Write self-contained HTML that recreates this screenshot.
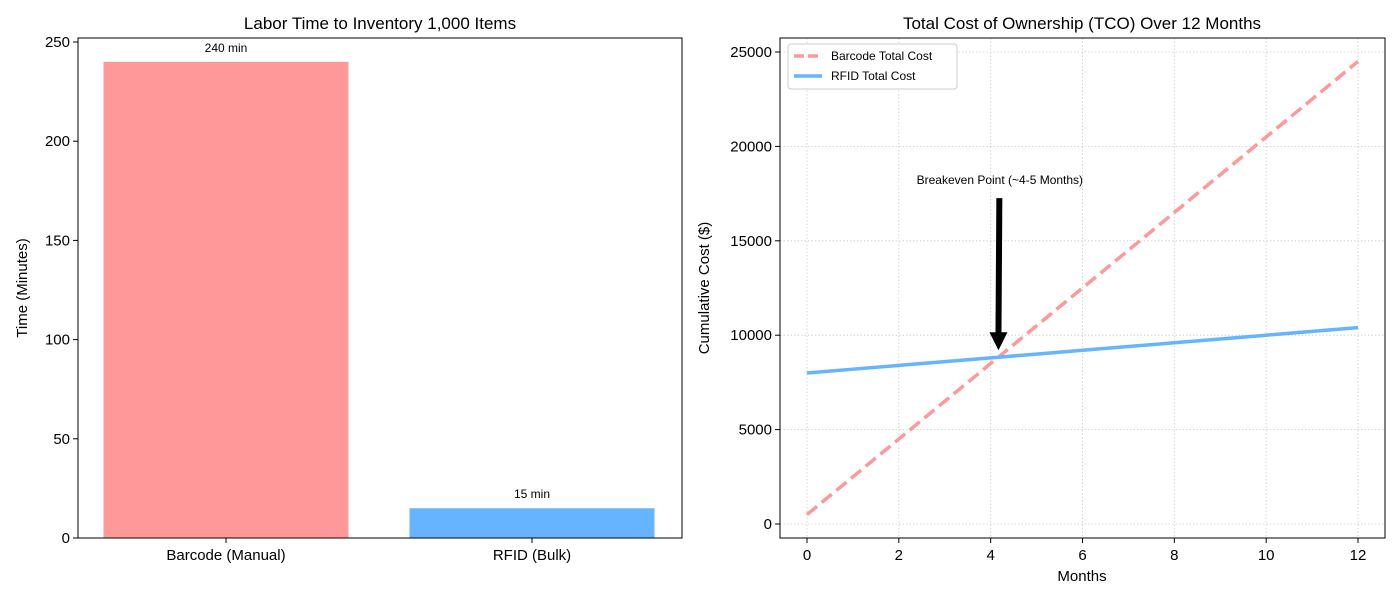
<!DOCTYPE html>
<html><head><meta charset="utf-8"><style>
body{margin:0;background:#fff;font-family:"Liberation Sans",sans-serif}
svg text{font-family:"Liberation Sans",sans-serif;fill:#000}
</style></head><body>
<svg id="c" width="1400" height="600" xmlns="http://www.w3.org/2000/svg"></svg>
<script>
const barCategories=["Barcode (Manual)","RFID (Bulk)"];
const barValues=[240,15];
const barLabels=["240 min","15 min"];
const barColors=["#ff9999","#66b3ff"];
const leftTicks=[0,50,100,150,200,250];
const months=[0,1,2,3,4,5,6,7,8,9,10,11,12];
const barcodeCost=[500,2500,4500,6500,8500,10500,12500,14500,16500,18500,20500,22500,24500];
const rfidCost=[8000,8200,8400,8600,8800,9000,9200,9400,9600,9800,10000,10200,10400];
const rightXTicks=[0,2,4,6,8,10,12];
const rightYTicks=[0,5000,10000,15000,20000,25000];
const breakeven=[4.17,8833];
const annotText=[4.2,18000];

const svg=document.getElementById('c');
const NS="http://www.w3.org/2000/svg";
function el(tag,attrs,parent){const e=document.createElementNS(NS,tag);for(const k in attrs)e.setAttribute(k,attrs[k]);(parent||svg).appendChild(e);return e;}
function txt(s,attrs,parent){const e=el('text',attrs,parent);e.textContent=s;return e;}

// LEFT
const L={x0:78,x1:682,y0:538,y1:38};
const ly=v=>538-v*(496/250);
const bandW=(L.x1-L.x0);
const bx=i=>226+i*306;
const gL=el('g',{});

barValues.forEach((v,i)=>{
 const r=el('rect',{x:bx(i)-122.5,y:ly(v),width:245,height:ly(0)-ly(v),fill:barColors[i]},gL);
 
 const t=txt(barLabels[i],{x:bx(i),y:ly(v)-10,'text-anchor':'middle','font-size':12},gL);
 
 const c=txt(barCategories[i],{x:bx(i),y:560,'text-anchor':'middle','font-size':15},gL);
 
 el('line',{x1:bx(i),x2:bx(i),y1:538,y2:543,stroke:'#000'},gL);
});
leftTicks.forEach(v=>{
 el('line',{x1:73,x2:78,y1:ly(v),y2:ly(v),stroke:'#000'},gL);
 const t=txt(v,{x:70,y:ly(v)+5,'text-anchor':'end','font-size':15},gL);
 
});
el('rect',{x:78,y:38,width:604,height:500,fill:'none',stroke:'#000','stroke-width':1},gL);
let t=txt('Labor Time to Inventory 1,000 Items',{x:380,y:29,'text-anchor':'middle','font-size':17},gL);

t=txt('Time (Minutes)',{x:27,y:288,'text-anchor':'middle','font-size':15,transform:'rotate(-90 27 288)'},gL);


// RIGHT
const rx=m=>807+m*(551/12);
const ry=v=>524-v*(472/25000);
const gR=el('g',{});

rightXTicks.forEach(m=>{
 el('line',{x1:rx(m),x2:rx(m),y1:38,y2:538,stroke:'#ccc','stroke-dasharray':'1.5 2','stroke-width':0.8},gR);
 el('line',{x1:rx(m),x2:rx(m),y1:538,y2:543,stroke:'#000'},gR);
 const a=txt(m,{x:rx(m),y:560,'text-anchor':'middle','font-size':15},gR);
 
});
rightYTicks.forEach(v=>{
 el('line',{x1:780,x2:1385,y1:ry(v),y2:ry(v),stroke:'#ccc','stroke-dasharray':'1.5 2','stroke-width':0.8},gR);
 el('line',{x1:775,x2:780,y1:ry(v),y2:ry(v),stroke:'#000'},gR);
 const a=txt(v,{x:772,y:ry(v)+5,'text-anchor':'end','font-size':15},gR);
 
});
const p1=el('polyline',{points:months.map((m,i)=>rx(m)+','+ry(barcodeCost[i])).join(' '),fill:'none',stroke:'#ff9999','stroke-width':3.5,'stroke-dasharray':'13 6'},gR);

const p2=el('polyline',{points:months.map((m,i)=>rx(m)+','+ry(rfidCost[i])).join(' '),fill:'none',stroke:'#66b3ff','stroke-width':3.5},gR);

// annotation
const ax=rx(annotText[0]),ay=ry(annotText[1]);
t=txt('Breakeven Point (~4-5 Months)',{x:ax,y:ay,'text-anchor':'middle','font-size':12},gR);

const tx=rx(breakeven[0]),ty=ry(breakeven[1])-7;
const ar=el('g',{},gR);
el('line',{x1:ax-0.5,y1:ay+14,x2:tx,y2:ty-16,stroke:'#000','stroke-width':6},ar);
el('polygon',{points:`${tx-9},${ty-18} ${tx+9},${ty-18} ${tx},${ty}`,fill:'#000'},ar);
el('rect',{x:780,y:38,width:605,height:500,fill:'none',stroke:'#000'},gR);
t=txt('Total Cost of Ownership (TCO) Over 12 Months',{x:1082,y:29,'text-anchor':'middle','font-size':17},gR);

t=txt('Months',{x:1082,y:581,'text-anchor':'middle','font-size':15},gR);

t=txt('Cumulative Cost ($)',{x:709,y:288,'text-anchor':'middle','font-size':15,transform:'rotate(-90 709 288)'},gR);

// legend
const lg=el('g',{},gR);
el('rect',{x:788,y:44,width:169,height:45,rx:3,fill:'#fff',stroke:'#ccc'},lg);
el('line',{x1:794,x2:822,y1:56,y2:56,stroke:'#ff9999','stroke-width':3.5,'stroke-dasharray':'10 4'},lg);
t=txt('Barcode Total Cost',{x:831,y:60,'font-size':12},lg);
el('line',{x1:794,x2:822,y1:76,y2:76,stroke:'#66b3ff','stroke-width':3.5},lg);
t=txt('RFID Total Cost',{x:831,y:80,'font-size':12},lg);
</script>
</body></html>
